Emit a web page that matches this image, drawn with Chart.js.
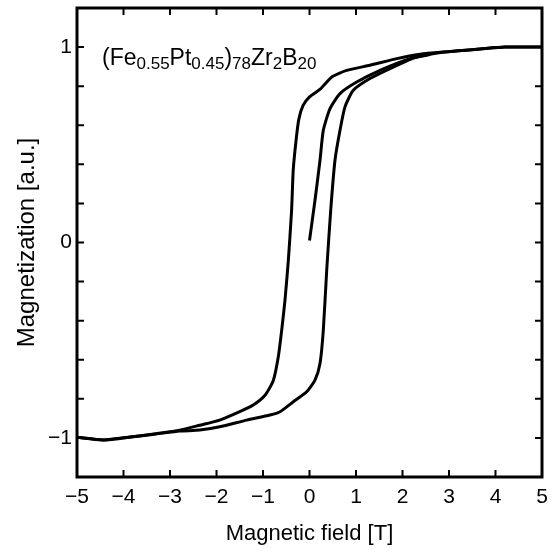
<!DOCTYPE html>
<html>
<head>
<meta charset="utf-8">
<script src="https://cdn.jsdelivr.net/npm/chart.js@4.4.1/dist/chart.umd.min.js"></script>
<style>
  html, body { margin: 0; padding: 0; background: #ffffff; }
  #wrap { width: 555px; height: 550px; position: relative; }
</style>
</head>
<body>
<div id="wrap"><canvas id="c" width="555" height="550"></canvas></div>
<script>
// ---- Data ----
// Descending branch (field from +5 T down to -5 T)
const descField = [5.0, 4.2, 3.67, 2.9, 2.38, 1.88, 1.30, 0.80, 0.48, 0.23, 0.0, -0.14, -0.23, -0.29, -0.35, -0.385, -0.455, -0.527, -0.598, -0.671, -0.778, -0.957, -1.21, -1.50, -1.93, -2.36, -2.79, -3.30, -3.80, -4.44, -5.0];
const descMag   = [1.0, 1.0, 0.99, 0.975, 0.963, 0.941, 0.907, 0.881, 0.847, 0.785, 0.745, 0.700, 0.630, 0.520, 0.370, 0.165, -0.091, -0.295, -0.449, -0.585, -0.706, -0.782, -0.832, -0.866, -0.909, -0.935, -0.960, -0.978, -0.994, -1.011, -0.997];
// Ascending branch (field from -5 T up to +5 T)
const ascField = [-5.0, -4.44, -3.80, -3.30, -2.79, -2.36, -1.93, -1.35, -0.85, -0.634, -0.348, -0.06, 0.118, 0.226, 0.297, 0.370, 0.456, 0.548, 0.656, 0.763, 0.942, 1.30, 1.80, 2.30, 2.90, 3.67, 4.2, 5.0];
const ascMag   = [-0.997, -1.011, -0.994, -0.980, -0.965, -0.960, -0.943, -0.909, -0.883, -0.866, -0.815, -0.764, -0.704, -0.619, -0.449, -0.142, 0.165, 0.421, 0.574, 0.694, 0.779, 0.839, 0.898, 0.949, 0.975, 0.99, 1.0, 1.0];
// Initial magnetization curve (virgin curve from 0 T)
const initField = [0.0, 0.118, 0.226, 0.297, 0.441, 0.656, 1.015, 1.516, 2.161, 2.6];
const initMag   = [0.01, 0.216, 0.421, 0.574, 0.685, 0.762, 0.821, 0.881, 0.941, 0.962];
// Axis ticks
const xTicks = [-5, -4, -3, -2, -1, 0, 1, 2, 3, 4, 5];
const yLabelValues = [-1, 0, 1];

function toPoints(xs, ys) { return xs.map((x, i) => ({ x: x, y: ys[i] })); }
function fmt(v) { return v < 0 ? '\u2212' + Math.abs(v) : String(v); }

const FONT = "'Liberation Sans', Arial, Helvetica, sans-serif";

const frameAndLabel = {
  id: 'frameAndLabel',
  afterDraw(chart) {
    const { ctx, chartArea: a, scales } = chart;
    const xs = scales.x, ys = scales.y;
    ctx.save();
    ctx.strokeStyle = '#000';
    // inward tick marks
    ctx.lineWidth = 2;
    ctx.beginPath();
    xTicks.forEach(v => {
      const px = xs.getPixelForValue(v);
      ctx.moveTo(px, a.bottom); ctx.lineTo(px, a.bottom - 7);
      ctx.moveTo(px, a.top); ctx.lineTo(px, a.top + 7);
    });
    ys.ticks.forEach(t => {
      const py = ys.getPixelForValue(t.value);
      ctx.moveTo(a.left, py); ctx.lineTo(a.left + 7, py);
      ctx.moveTo(a.right, py); ctx.lineTo(a.right - 7, py);
    });
    ctx.stroke();
    // frame
    ctx.lineWidth = 3;
    ctx.strokeRect(a.left, a.top, a.right - a.left, a.bottom - a.top);
    // composition label with subscripts
    const parts = [
      ['(Fe', 0], ['0.55', 1], ['Pt', 0], ['0.45', 1], [')', 0], ['78', 1],
      ['Zr', 0], ['2', 1], ['B', 0], ['20', 1]
    ];
    let x = a.left + 25;
    const base = 65;
    ctx.fillStyle = '#000';
    ctx.textBaseline = 'alphabetic';
    ctx.textAlign = 'left';
    parts.forEach(([txt, sub]) => {
      ctx.font = (sub ? '17px ' : '23px ') + FONT;
      ctx.fillText(txt, x, sub ? base + 4 : base);
      x += ctx.measureText(txt).width;
    });
    ctx.restore();
  }
};

function zeroPad(s) { s.paddingTop = 0; s.paddingBottom = 0; s.paddingLeft = 0; s.paddingRight = 0; }

new Chart(document.getElementById('c'), {
  type: 'scatter',
  data: {
    datasets: [
      { label: 'descending', data: toPoints(descField, descMag) },
      { label: 'ascending', data: toPoints(ascField, ascMag) },
      { label: 'initial', data: toPoints(initField, initMag) }
    ].map(d => Object.assign(d, {
      showLine: true, borderColor: '#000', borderWidth: 3, pointRadius: 0,
      pointHoverRadius: 0, tension: 0.2, fill: false
    }))
  },
  options: {
    responsive: false,
    animation: false,
    events: [],
    layout: { padding: { left: 0, right: 13, top: 8, bottom: 0 } },
    plugins: { legend: { display: false }, tooltip: { enabled: false } },
    scales: {
      x: {
        type: 'linear', min: -5, max: 5,
        grid: { display: false, drawTicks: false },
        border: { display: false },
        afterBuildTicks: s => { s.ticks = xTicks.map(v => ({ value: v })); },
        afterFit: s => { s.height = 73; zeroPad(s); },
        ticks: {
          padding: 8, color: '#000', maxRotation: 0, autoSkip: false,
          font: { family: FONT, size: 21 },
          callback: v => fmt(v)
        },
        title: {
          display: true, text: 'Magnetic field [T]', color: '#000',
          font: { family: FONT, size: 22 }, padding: { top: 0, bottom: 3 }
        }
      },
      y: {
        type: 'linear', min: -1.2, max: 1.2,
        grid: { display: false, drawTicks: false },
        border: { display: false },
        afterFit: s => { s.width = 77; zeroPad(s); },
        ticks: {
          stepSize: 0.2, padding: 5, color: '#000', autoSkip: false,
          font: { family: FONT, size: 21 },
          callback: v => {
            const r = Math.round(v * 10) / 10;
            return yLabelValues.includes(r) ? fmt(r) : '';
          }
        },
        title: {
          display: true, text: 'Magnetization [a.u.]', color: '#000',
          font: { family: FONT, size: 24 }, padding: { top: 13, bottom: 0 }
        }
      }
    }
  },
  plugins: [frameAndLabel]
});
</script>
</body>
</html>
